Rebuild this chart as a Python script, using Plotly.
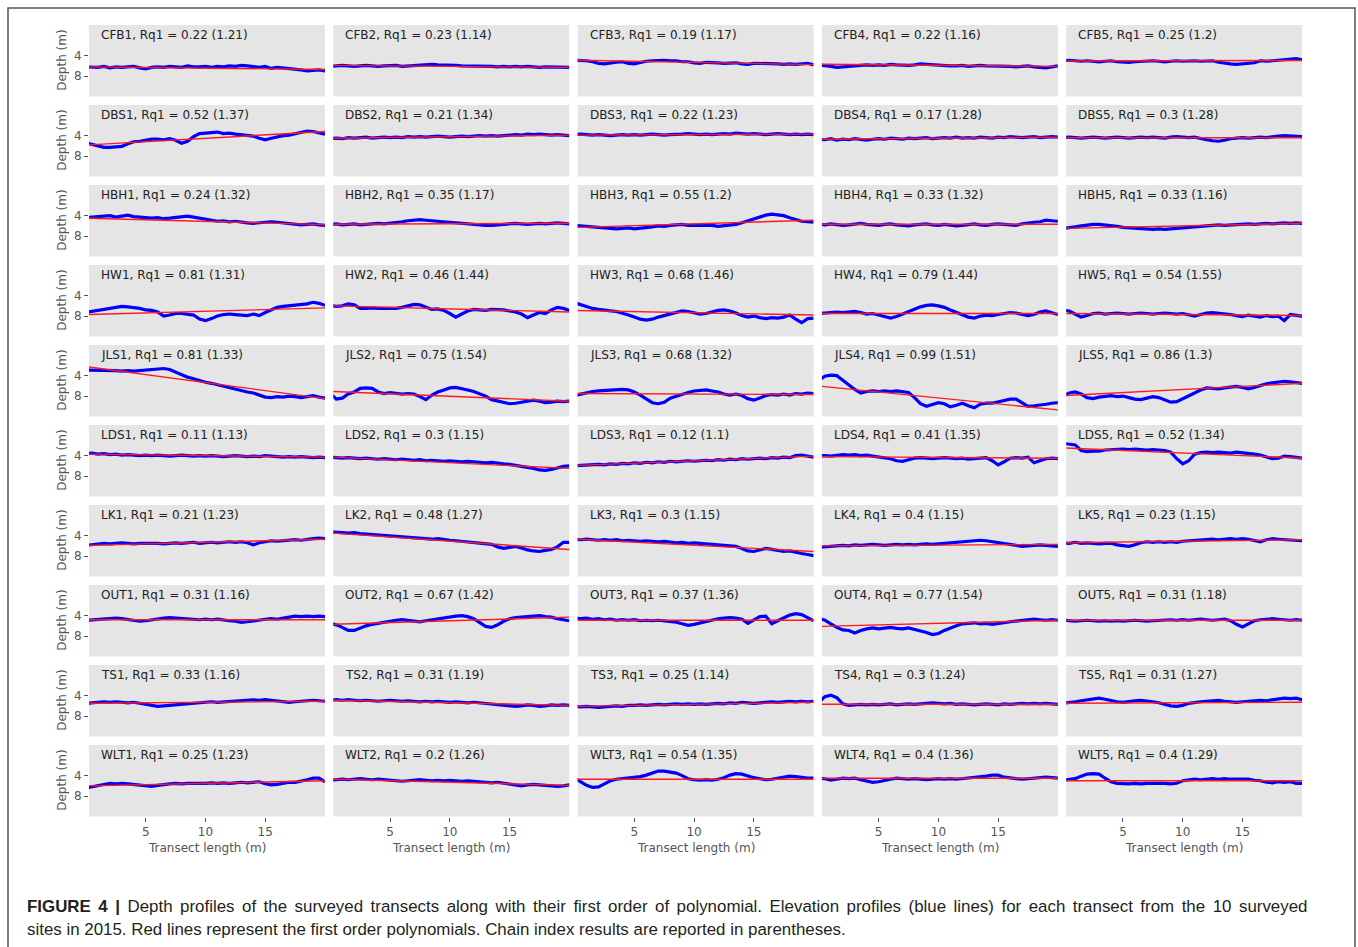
import plotly.graph_objects as go

# ---- data -------------------------------------------------------------
sites = ["CFB", "DBS", "HBH", "HW", "JLS", "LDS", "LK", "OUT", "TS", "WLT"]

rq1 = [
    [0.22, 0.23, 0.19, 0.22, 0.25],
    [0.52, 0.21, 0.22, 0.17, 0.3],
    [0.24, 0.35, 0.55, 0.33, 0.33],
    [0.81, 0.46, 0.68, 0.79, 0.54],
    [0.81, 0.75, 0.68, 0.99, 0.86],
    [0.11, 0.3, 0.12, 0.41, 0.52],
    [0.21, 0.48, 0.3, 0.4, 0.23],
    [0.31, 0.67, 0.37, 0.77, 0.31],
    [0.33, 0.31, 0.25, 0.3, 0.31],
    [0.25, 0.2, 0.54, 0.4, 0.4],
]

chain_index = [
    [1.21, 1.14, 1.17, 1.16, 1.2],
    [1.37, 1.34, 1.23, 1.28, 1.28],
    [1.32, 1.17, 1.2, 1.32, 1.16],
    [1.31, 1.44, 1.46, 1.44, 1.55],
    [1.33, 1.54, 1.32, 1.51, 1.3],
    [1.13, 1.15, 1.1, 1.35, 1.34],
    [1.23, 1.27, 1.15, 1.15, 1.15],
    [1.16, 1.42, 1.36, 1.54, 1.18],
    [1.16, 1.19, 1.14, 1.24, 1.27],
    [1.23, 1.26, 1.35, 1.36, 1.29],
]

# distance along each transect (m), one sample every 0.5 m
distance_m = [i * 0.5 for i in range(41)]

# depth profiles (m), five transects per site
CFB = [
    [6.2, 6.2, 6.3, 6.1, 6.4, 6.2, 6.3, 6.2, 6.1, 6.4, 6.6, 6.3, 6.2, 6.3, 6.1, 6.2, 6.3, 6.0, 6.2, 6.2, 6.1,
     6.3, 6.1, 6.2, 6.0, 6.1, 5.9, 6.0, 6.2, 6.3, 6.1, 6.5, 6.3, 6.4, 6.5, 6.6, 6.8, 7.0, 6.9, 6.8, 7.0],
    [6.1, 6.0, 5.9, 6.0, 6.1, 6.0, 5.9, 6.0, 6.1, 6.0, 6.0, 5.9, 6.1, 6.0, 5.9, 5.8, 5.7, 5.7, 5.8, 5.8, 5.9,
     5.9, 6.0, 6.0, 6.1, 6.0, 6.0, 6.1, 6.2, 6.1, 6.2, 6.1, 6.2, 6.1, 6.2, 6.3, 6.2, 6.2, 6.3, 6.2, 6.3],
    [4.9, 4.9, 5.0, 5.2, 5.5, 5.6, 5.4, 5.3, 5.2, 5.5, 5.6, 5.3, 5.1, 5.0, 4.9, 4.9, 5.0, 5.0, 5.2, 5.2, 5.4,
     5.5, 5.3, 5.3, 5.4, 5.5, 5.4, 5.4, 5.6, 5.7, 5.5, 5.5, 5.6, 5.5, 5.6, 5.7, 5.6, 5.7, 5.6, 5.5, 5.8],
    [5.8, 5.9, 6.1, 6.3, 6.2, 6.0, 5.9, 5.9, 5.8, 5.9, 5.8, 5.9, 5.7, 5.8, 5.9, 5.9, 5.8, 5.6, 5.7, 5.8, 5.9,
     5.9, 6.0, 6.0, 5.9, 6.1, 6.0, 5.9, 6.0, 6.0, 6.1, 6.0, 6.1, 6.2, 6.1, 6.0, 6.2, 6.3, 6.4, 6.2, 6.0],
    [5.0, 4.9, 5.0, 5.1, 5.0, 5.1, 5.2, 5.1, 5.0, 5.2, 5.3, 5.3, 5.2, 5.1, 5.0, 5.0, 5.1, 5.2, 5.1, 5.0, 5.1,
     5.0, 5.0, 5.1, 5.0, 5.0, 5.3, 5.5, 5.6, 5.7, 5.6, 5.5, 5.4, 5.0, 5.1, 5.0, 4.9, 4.7, 4.6, 4.6, 4.8],
]
DBS = [
    [5.4, 5.7, 6.1, 6.3, 6.3, 6.2, 6.1, 5.6, 5.2, 5.1, 4.9, 4.7, 4.7, 4.8, 4.6, 4.9, 5.5, 5.1, 4.2, 3.6, 3.5,
     3.4, 3.3, 3.6, 3.5, 3.7, 3.8, 3.9, 4.1, 4.5, 4.8, 4.5, 4.2, 4.0, 3.9, 3.6, 3.4, 3.1, 3.2, 3.4, 3.7],
    [4.6, 4.5, 4.6, 4.4, 4.5, 4.4, 4.3, 4.5, 4.4, 4.3, 4.4, 4.3, 4.4, 4.2, 4.3, 4.2, 4.3, 4.2, 4.1, 4.2, 4.3,
     4.2, 4.1, 4.2, 4.1, 4.0, 4.1, 4.0, 4.1, 4.0, 3.9, 3.8, 3.9, 3.7, 3.8, 3.7, 3.8, 3.9, 3.8, 3.9, 4.0],
    [3.8, 3.7, 3.8, 3.9, 3.8, 3.9, 4.0, 3.9, 3.8, 3.9, 3.8, 3.9, 3.8, 3.7, 3.8, 3.9, 3.8, 3.8, 3.7, 3.6, 3.7,
     3.8, 3.7, 3.8, 3.7, 3.6, 3.7, 3.5, 3.6, 3.7, 3.6, 3.7, 3.8, 3.7, 3.6, 3.7, 3.8, 3.7, 3.8, 3.7, 3.8],
    [4.7, 4.8, 4.6, 4.9, 4.7, 4.8, 4.6, 4.7, 4.9, 4.7, 4.6, 4.7, 4.5, 4.6, 4.7, 4.5, 4.6, 4.5, 4.4, 4.6, 4.5,
     4.4, 4.5, 4.3, 4.5, 4.4, 4.5, 4.3, 4.4, 4.5, 4.3, 4.4, 4.2, 4.3, 4.4, 4.3, 4.2, 4.4, 4.3, 4.2, 4.3],
    [4.4, 4.3, 4.4, 4.5, 4.4, 4.3, 4.4, 4.5, 4.4, 4.3, 4.4, 4.5, 4.4, 4.3, 4.4, 4.3, 4.4, 4.5, 4.3, 4.2, 4.3,
     4.4, 4.3, 4.6, 4.8, 5.0, 5.1, 4.9, 4.6, 4.5, 4.4, 4.5, 4.4, 4.3, 4.4, 4.2, 4.1, 4.0, 4.1, 4.2, 4.2],
]
HBH = [
    [4.4, 4.3, 4.2, 4.1, 4.0, 4.3, 4.1, 3.9, 4.2, 4.3, 4.4, 4.5, 4.4, 4.6, 4.5, 4.4, 4.3, 4.1, 4.3, 4.5, 4.7,
     5.0, 5.1, 5.0, 5.2, 5.1, 5.3, 5.4, 5.5, 5.4, 5.3, 5.2, 5.3, 5.4, 5.5, 5.6, 5.8, 5.7, 5.6, 5.8, 5.9],
    [5.7, 5.6, 5.8, 5.7, 5.6, 5.8, 5.7, 5.6, 5.5, 5.6, 5.5, 5.4, 5.2, 5.0, 4.9, 4.8, 4.9, 5.0, 5.2, 5.3, 5.3,
     5.4, 5.5, 5.6, 5.7, 5.8, 5.9, 5.9, 5.8, 5.7, 5.6, 5.5, 5.6, 5.7, 5.6, 5.5, 5.6, 5.5, 5.4, 5.5, 5.6],
    [5.9, 6.0, 6.1, 6.2, 6.3, 6.4, 6.5, 6.6, 6.5, 6.4, 6.6, 6.5, 6.3, 6.2, 6.0, 6.1, 5.9, 5.8, 5.7, 5.9, 5.9,
     6.0, 6.0, 5.9, 6.1, 6.0, 5.9, 5.7, 5.4, 5.0, 4.6, 4.2, 3.9, 3.7, 3.8, 4.0, 4.4, 4.8, 5.1, 5.2, 5.3],
    [5.7, 5.8, 5.6, 5.7, 5.9, 5.8, 5.6, 5.5, 5.7, 5.8, 5.9, 5.7, 5.6, 5.8, 5.9, 6.0, 5.8, 5.7, 5.6, 5.8, 5.9,
     5.7, 5.8, 6.0, 5.9, 5.7, 5.6, 5.8, 5.9, 5.7, 5.6, 5.7, 5.8, 5.9, 5.6, 5.4, 5.3, 5.2, 4.9, 5.0, 5.1],
    [6.5, 6.4, 6.2, 6.0, 5.8, 5.7, 5.7, 5.8, 5.9, 6.1, 6.3, 6.4, 6.5, 6.6, 6.7, 6.7, 6.6, 6.7, 6.6, 6.5, 6.4,
     6.3, 6.2, 6.0, 5.9, 5.8, 5.8, 5.9, 5.8, 5.7, 5.7, 5.6, 5.7, 5.6, 5.5, 5.6, 5.5, 5.4, 5.5, 5.4, 5.5],
]
HW = [
    [7.3, 7.1, 6.8, 6.6, 6.4, 6.2, 6.1, 6.2, 6.3, 6.5, 6.8, 6.9, 7.2, 8.0, 7.8, 7.5, 7.5, 7.6, 7.8, 8.6, 8.9,
     8.5, 8.0, 7.7, 7.6, 7.7, 7.8, 7.9, 7.6, 7.9, 7.3, 6.8, 6.3, 6.1, 6.0, 5.9, 5.8, 5.6, 5.3, 5.5, 5.9],
    [5.9, 6.1, 6.0, 5.6, 5.8, 6.5, 6.5, 6.4, 6.5, 6.5, 6.4, 6.5, 6.3, 6.0, 5.7, 5.8, 6.2, 6.7, 6.6, 6.9, 7.5,
     8.2, 7.6, 7.0, 6.7, 6.8, 6.9, 6.7, 6.7, 6.8, 7.0, 7.2, 7.6, 8.3, 7.8, 7.3, 7.5, 6.8, 6.3, 6.5, 6.9],
    [5.4, 5.8, 6.2, 6.5, 6.7, 6.9, 7.0, 7.1, 7.4, 7.8, 8.2, 8.6, 8.8, 8.6, 8.2, 7.9, 7.6, 7.2, 7.0, 7.1, 7.3,
     7.6, 7.5, 7.2, 6.9, 6.8, 7.0, 7.4, 7.9, 8.2, 8.0, 8.3, 8.5, 8.3, 8.4, 8.2, 7.8, 8.6, 9.3, 8.5, 8.4],
    [7.5, 7.4, 7.3, 7.2, 7.3, 7.2, 7.1, 7.3, 7.6, 7.5, 7.8, 8.2, 8.4, 8.1, 7.6, 7.1, 6.6, 6.2, 5.9, 5.8, 6.0,
     6.3, 6.8, 7.3, 7.8, 8.2, 8.4, 8.0, 7.8, 7.9, 7.7, 7.5, 7.3, 7.4, 7.6, 7.9, 7.7, 7.2, 7.0, 7.3, 7.7],
    [6.9, 7.0, 7.6, 8.2, 7.9, 7.5, 7.4, 7.6, 7.5, 7.4, 7.5, 7.6, 7.5, 7.4, 7.5, 7.6, 7.5, 7.4, 7.5, 7.6, 7.5,
     7.8, 8.0, 7.7, 7.4, 7.3, 7.4, 7.5, 7.7, 7.9, 8.1, 7.8, 8.0, 8.2, 7.9, 8.1, 8.0, 8.9, 7.7, 7.8, 8.0],
]
JLS = [
    [2.9, 2.9, 3.0, 2.9, 3.0, 3.0, 3.1, 3.0, 3.1, 3.0, 2.9, 2.8, 2.7, 2.6, 2.8, 3.3, 3.9, 4.3, 4.6, 5.0, 5.3,
     5.5, 5.8, 6.1, 6.4, 6.6, 6.9, 7.2, 7.4, 7.8, 8.2, 8.3, 8.1, 8.2, 8.0, 8.1, 8.3, 8.1, 7.9, 8.2, 8.4],
    [7.5, 8.6, 8.4, 7.6, 7.2, 6.5, 6.4, 6.5, 7.2, 7.5, 7.3, 7.5, 7.6, 7.5, 7.6, 8.1, 8.7, 7.8, 7.2, 6.8, 6.4,
     6.3, 6.5, 6.8, 7.1, 7.5, 8.0, 8.7, 9.0, 9.3, 9.5, 9.4, 9.2, 9.0, 8.8, 9.0, 9.3, 9.2, 9.0, 9.1, 9.0],
    [7.9, 7.6, 7.3, 7.1, 7.0, 6.9, 6.8, 6.7, 6.7, 6.8, 7.2, 7.8, 8.6, 9.3, 9.5, 9.2, 8.4, 8.0, 7.6, 7.3, 7.0,
     6.9, 6.8, 7.0, 7.2, 7.6, 7.8, 7.6, 7.9, 8.5, 8.8, 8.4, 7.9, 7.7, 7.8, 7.6, 7.8, 7.5, 7.6, 7.4, 7.5],
    [4.9, 4.1, 3.9, 4.0, 4.9, 5.8, 6.7, 7.4, 7.1, 7.0, 7.1, 7.0, 7.1, 7.0, 7.1, 7.3, 8.3, 9.5, 10.0, 9.7, 9.3,
     9.5, 10.1, 9.8, 9.4, 9.9, 10.3, 9.6, 9.4, 9.4, 9.1, 8.8, 8.6, 8.6, 9.3, 10.0, 9.9, 9.8, 9.6, 9.4, 9.3],
    [7.9, 7.4, 7.2, 7.6, 8.3, 8.5, 8.2, 8.0, 7.9, 8.1, 8.0, 8.3, 8.6, 8.7, 8.4, 8.1, 8.3, 8.8, 9.2, 9.1, 8.5,
     7.9, 7.3, 6.8, 6.4, 6.5, 6.6, 6.4, 6.2, 6.1, 6.3, 6.6, 6.3, 5.9, 5.6, 5.4, 5.3, 5.1, 5.2, 5.4, 5.5],
]
LDS = [
    [3.6, 3.5, 3.7, 3.6, 3.8, 3.7, 3.9, 3.8, 3.9, 4.0, 3.9, 4.0, 3.9, 4.0, 4.1, 4.0, 3.9, 4.0, 4.1, 4.0, 4.1,
     4.0, 4.1, 4.2, 4.1, 4.0, 4.1, 4.2, 4.1, 4.2, 4.0, 4.1, 4.2, 4.3, 4.2, 4.3, 4.2, 4.3, 4.4, 4.3, 4.4],
    [4.3, 4.4, 4.5, 4.4, 4.5, 4.6, 4.5, 4.6, 4.7, 4.6, 4.7, 4.8, 4.7, 4.8, 4.9, 4.8, 5.0, 4.9, 5.0, 5.1, 5.0,
     5.1, 5.2, 5.1, 5.2, 5.3, 5.4, 5.3, 5.5, 5.6, 5.7, 5.9, 6.0, 6.2, 6.5, 6.8, 6.9, 6.7, 6.4, 6.1, 6.0],
    [6.0, 5.9, 5.9, 5.8, 5.7, 5.8, 5.6, 5.7, 5.5, 5.6, 5.4, 5.5, 5.3, 5.4, 5.2, 5.3, 5.1, 5.2, 5.1, 5.0, 5.1,
     5.0, 4.9, 5.0, 4.8, 4.9, 4.7, 4.8, 4.6, 4.7, 4.6, 4.5, 4.6, 4.4, 4.5, 4.3, 4.4, 4.0, 3.9, 4.1, 4.3],
    [4.1, 4.0, 4.1, 3.9, 3.8, 3.9, 3.8, 4.0, 3.9, 4.1, 4.3, 4.4, 4.6, 5.0, 5.1, 4.8, 4.5, 4.4, 4.5, 4.6, 4.5,
     4.4, 4.5, 4.6, 4.5, 4.7, 4.6, 4.5, 4.4, 5.0, 5.8, 5.2, 4.5, 4.4, 4.5, 4.3, 5.4, 5.0, 4.6, 4.5, 4.6],
    [1.6, 1.7, 1.9, 3.0, 3.2, 3.1, 3.1, 2.9, 2.8, 2.7, 2.7, 2.8, 2.7, 2.8, 2.9, 2.8, 2.9, 3.0, 3.3, 4.6, 5.6,
     5.0, 3.7, 3.4, 3.3, 3.4, 3.3, 3.4, 3.5, 3.3, 3.4, 3.6, 3.7, 3.9, 4.3, 4.6, 4.5, 4.1, 4.2, 4.3, 4.5],
]
LK = [
    [5.9, 5.8, 5.6, 5.5, 5.6, 5.5, 5.4, 5.5, 5.6, 5.5, 5.5, 5.4, 5.5, 5.6, 5.5, 5.4, 5.5, 5.4, 5.3, 5.5, 5.4,
     5.3, 5.4, 5.3, 5.2, 5.3, 5.2, 5.4, 5.8, 5.4, 5.2, 5.0, 5.1, 5.0, 4.9, 4.8, 4.9, 4.7, 4.6, 4.5, 4.6],
    [3.3, 3.3, 3.4, 3.5, 3.4, 3.6, 3.7, 3.8, 3.9, 4.0, 4.1, 4.2, 4.3, 4.3, 4.4, 4.5, 4.6, 4.7, 4.6, 4.8, 4.9,
     5.0, 5.1, 5.3, 5.4, 5.5, 5.6, 5.7, 6.2, 6.5, 6.3, 6.1, 6.4, 6.8, 7.0, 7.1, 6.9, 6.7, 6.2, 5.3, 5.3],
    [4.7, 4.8, 4.7, 4.8, 4.9, 4.8, 4.9, 4.8, 5.0, 4.9, 5.0, 5.1, 5.0, 5.1, 5.2, 5.1, 5.3, 5.4, 5.3, 5.5, 5.4,
     5.5, 5.6, 5.7, 5.8, 5.9, 6.0, 6.1, 6.5, 7.0, 7.1, 6.8, 6.5, 6.7, 6.9, 7.1, 7.0, 7.3, 7.5, 7.7, 7.9],
    [6.3, 6.2, 6.1, 6.0, 5.9, 6.0, 5.8, 5.9, 5.8, 5.7, 5.8, 5.9, 5.8, 5.7, 5.8, 5.7, 5.8, 5.7, 5.6, 5.7, 5.6,
     5.5, 5.4, 5.3, 5.2, 5.0, 4.9, 4.9, 5.0, 5.2, 5.3, 5.5, 5.7, 6.0, 6.1, 6.0, 5.9, 5.8, 5.9, 6.0, 6.1],
    [5.4, 5.5, 5.3, 5.5, 5.4, 5.5, 5.6, 5.5, 5.5, 5.8, 6.0, 6.1, 5.8, 5.4, 5.2, 5.3, 5.2, 5.3, 5.2, 5.3, 5.1,
     5.0, 4.9, 4.8, 4.8, 4.7, 4.8, 4.7, 4.6, 4.7, 4.6, 4.7, 4.9, 5.2, 4.8, 4.6, 4.7, 4.8, 4.9, 5.0, 5.0],
]
OUT = [
    [4.9, 4.8, 4.7, 4.6, 4.5, 4.5, 4.6, 4.8, 5.0, 5.1, 5.0, 4.8, 4.6, 4.5, 4.4, 4.5, 4.5, 4.6, 4.7, 4.8, 4.7,
     4.8, 4.7, 4.9, 5.0, 5.1, 5.3, 5.2, 5.0, 4.8, 4.7, 4.6, 4.7, 4.5, 4.3, 4.1, 4.2, 4.1, 4.2, 4.1, 4.2],
    [5.5, 5.8, 6.3, 6.9, 6.9, 6.4, 6.0, 5.7, 5.5, 5.2, 5.0, 4.9, 4.8, 4.9, 5.0, 5.2, 5.0, 4.8, 4.6, 4.4, 4.2,
     4.1, 4.0, 4.2, 4.6, 5.3, 6.1, 6.3, 5.8, 5.1, 4.6, 4.4, 4.3, 4.2, 4.1, 4.0, 4.2, 4.3, 4.6, 4.8, 5.0],
    [4.4, 4.6, 4.5, 4.7, 4.6, 4.8, 4.7, 4.9, 4.8, 4.9, 4.8, 5.0, 4.9, 5.0, 4.9, 5.0, 5.1, 5.3, 5.6, 5.9, 5.7,
     5.4, 5.1, 4.8, 4.6, 4.5, 4.4, 4.5, 4.7, 5.5, 4.8, 4.2, 4.1, 5.6, 5.0, 4.4, 3.9, 3.6, 3.8, 4.4, 5.0],
    [4.5, 4.9, 5.6, 6.3, 6.8, 6.9, 7.4, 6.9, 6.6, 6.4, 6.6, 6.5, 6.3, 6.5, 6.6, 6.4, 6.7, 6.9, 7.3, 7.7, 7.5,
     6.9, 6.4, 6.0, 5.6, 5.5, 5.4, 5.6, 5.5, 5.7, 5.6, 5.4, 5.2, 5.1, 5.0, 4.9, 4.7, 4.8, 4.9, 4.8, 4.9],
    [4.9, 5.0, 5.1, 5.0, 4.9, 5.0, 5.1, 5.0, 5.1, 5.0, 5.1, 5.0, 4.9, 5.0, 5.1, 5.0, 4.9, 4.9, 4.8, 4.9, 4.8,
     4.9, 4.8, 4.7, 4.8, 4.9, 4.8, 4.7, 5.0, 5.7, 6.2, 5.6, 5.0, 4.8, 4.7, 4.6, 4.7, 4.8, 4.9, 4.8, 4.9],
]
TS = [
    [5.5, 5.4, 5.3, 5.2, 5.3, 5.2, 5.3, 5.4, 5.3, 5.5, 5.6, 5.9, 6.1, 6.0, 5.9, 5.8, 5.7, 5.6, 5.5, 5.4, 5.3,
     5.2, 5.3, 5.2, 5.1, 5.0, 5.0, 4.9, 4.8, 4.9, 4.8, 4.9, 5.0, 5.1, 5.3, 5.2, 5.1, 5.0, 4.9, 5.0, 5.1],
    [4.9, 4.8, 4.9, 4.8, 4.9, 5.0, 4.9, 5.0, 5.1, 5.0, 4.9, 5.0, 5.1, 5.0, 5.1, 5.2, 5.1, 5.2, 5.1, 5.2, 5.3,
     5.2, 5.3, 5.4, 5.3, 5.4, 5.5, 5.6, 5.7, 5.9, 6.0, 6.1, 6.0, 5.8, 5.9, 6.1, 6.0, 5.8, 5.9, 5.8, 5.9],
    [6.1, 6.2, 6.1, 6.2, 6.3, 6.2, 6.1, 6.0, 6.1, 5.9, 5.9, 5.8, 5.9, 5.8, 5.7, 5.8, 5.7, 5.6, 5.7, 5.6, 5.7,
     5.6, 5.7, 5.6, 5.5, 5.6, 5.4, 5.5, 5.3, 5.4, 5.5, 5.4, 5.3, 5.2, 5.3, 5.2, 5.1, 5.2, 5.1, 5.2, 5.1],
    [5.3, 4.2, 3.9, 4.4, 5.6, 5.9, 5.8, 5.7, 5.8, 5.7, 5.8, 5.7, 5.6, 5.8, 5.7, 5.6, 5.7, 5.6, 5.5, 5.4, 5.5,
     5.6, 5.5, 5.7, 5.6, 5.7, 5.8, 5.7, 5.6, 5.7, 5.8, 5.6, 5.7, 5.6, 5.5, 5.6, 5.5, 5.6, 5.5, 5.6, 5.7],
    [5.5, 5.4, 5.2, 5.0, 4.8, 4.6, 4.5, 4.7, 5.0, 5.2, 5.3, 5.1, 5.0, 4.9, 5.0, 5.2, 5.4, 5.7, 6.0, 6.1, 5.9,
     5.5, 5.3, 5.2, 5.1, 5.0, 4.9, 5.1, 5.2, 5.3, 5.2, 5.1, 5.0, 4.9, 5.0, 4.8, 4.6, 4.5, 4.6, 4.5, 4.8],
]
WLT = [
    [6.4, 6.2, 5.9, 5.7, 5.5, 5.6, 5.5, 5.6, 5.7, 5.8, 6.0, 6.1, 5.9, 5.7, 5.6, 5.5, 5.6, 5.5, 5.5, 5.6, 5.5,
     5.4, 5.5, 5.4, 5.5, 5.4, 5.3, 5.4, 5.3, 5.2, 5.6, 5.8, 5.7, 5.5, 5.3, 5.3, 5.1, 4.8, 4.5, 4.5, 5.2],
    [4.9, 4.8, 4.7, 4.8, 4.7, 4.6, 4.7, 4.8, 4.7, 4.8, 4.9, 5.0, 5.1, 5.0, 4.9, 4.8, 4.9, 5.0, 4.9, 5.0, 4.9,
     5.0, 5.1, 5.0, 5.1, 5.2, 5.3, 5.4, 5.3, 5.5, 5.7, 5.9, 6.0, 5.8, 5.7, 5.8, 5.9, 6.0, 6.1, 6.0, 5.8],
    [4.5, 5.2, 5.9, 6.3, 6.2, 5.6, 5.0, 4.7, 4.6, 4.5, 4.4, 4.2, 3.9, 3.5, 3.1, 3.1, 3.3, 3.5, 4.0, 4.6, 4.8,
     4.9, 4.8, 4.9, 4.7, 4.4, 3.9, 3.6, 3.7, 4.1, 4.4, 4.6, 4.8, 4.7, 4.5, 4.3, 4.1, 4.2, 4.4, 4.5, 4.5],
    [4.5, 4.6, 4.9, 4.7, 4.5, 4.6, 4.5, 4.8, 5.1, 5.3, 5.2, 4.9, 4.7, 4.5, 4.6, 4.7, 4.6, 4.7, 4.8, 4.7, 4.6,
     4.7, 4.6, 4.7, 4.6, 4.5, 4.4, 4.3, 4.1, 3.9, 3.9, 4.3, 4.5, 4.6, 4.7, 4.6, 4.5, 4.4, 4.3, 4.4, 4.5],
    [4.9, 4.8, 4.6, 4.1, 3.7, 3.6, 3.7, 4.5, 5.2, 5.5, 5.6, 5.6, 5.5, 5.6, 5.5, 5.5, 5.4, 5.5, 5.6, 5.5, 5.0,
     4.8, 4.7, 4.8, 4.7, 4.6, 4.7, 4.6, 4.7, 4.7, 4.6, 4.7, 4.9, 5.0, 5.3, 5.4, 5.2, 5.3, 5.2, 5.5, 5.5],
]
profiles = [CFB, DBS, HBH, HW, JLS, LDS, LK, OUT, TS, WLT]

# first-order polynomial: depth at the start and end of each transect (m)
fit_start = [
    [6.2, 5.9, 4.9, 5.7, 5.05],
    [5.8, 4.5, 3.9, 4.7, 4.4],
    [4.5, 5.7, 6.3, 5.7, 6.5],
    [7.7, 6.0, 6.9, 7.5, 7.5],
    [2.3, 7.1, 7.5, 6.1, 7.9],
    [3.7, 4.3, 5.9, 4.2, 2.5],
    [5.9, 3.5, 4.7, 6.0, 5.4],
    [4.8, 5.7, 4.9, 6.1, 4.9],
    [5.5, 4.9, 6.1, 5.7, 5.5],
    [6.0, 4.7, 4.7, 4.5, 5.0],
]
fit_end = [
    [6.7, 6.3, 5.75, 6.1, 4.95],
    [3.2, 3.9, 3.7, 4.3, 4.4],
    [5.75, 5.5, 4.9, 5.7, 5.5],
    [6.4, 7.2, 7.8, 7.5, 7.9],
    [8.5, 9.0, 7.7, 10.7, 5.5],
    [4.3, 6.5, 4.1, 4.5, 4.5],
    [4.7, 6.7, 7.1, 5.7, 4.8],
    [4.8, 4.3, 4.9, 4.9, 4.9],
    [5.1, 5.9, 5.3, 5.7, 5.3],
    [5.0, 5.9, 4.7, 4.5, 5.0],
]

x_ticks = [5, 10, 15]
y_ticks = [4, 8]
x_span = [0.25, 20.0]
depth_span = [12.0, -2.0]

caption_lines = [
    "<b>FIGURE 4 |</b> Depth profiles of the surveyed transects along with their first order of polynomial. "
    "Elevation profiles (blue lines) for each transect from the 10 surveyed",
    "sites in 2015. Red lines represent the first order polynomials. Chain index results are reported in parentheses.",
]
# the first caption line is set justified: widen its word gaps
caption_justify = [True, False]

# ---- layout geometry (pixels) -------------------------------------------
W, H = 1358, 947
n_rows, n_cols = 10, 5
panel_left0, panel_w, col_step = 89.0, 236.0, 244.3
panel_top0, panel_h, row_step = 25.0, 71.5, 80.0

TICK_GRAY = "#555555"
TITLE_FONT = "DejaVu Sans, Verdana, sans-serif"
CAPTION_FONT = "Liberation Sans, Arial, Helvetica, sans-serif"


def px_x(x):
    return x / W


def px_y(y):
    return 1 - y / H


fig = go.Figure()
layout_axes = {}
annotations = []

for r in range(n_rows):
    for c in range(n_cols):
        k = r * n_cols + c + 1
        xa = "x" if k == 1 else f"x{k}"
        ya = "y" if k == 1 else f"y{k}"
        left = panel_left0 + c * col_step
        top = panel_top0 + r * row_step
        bottom_row = r == n_rows - 1

        fig.add_trace(go.Scatter(
            x=distance_m, y=profiles[r][c], mode="lines",
            line=dict(color="#0000ff", width=3.2), xaxis=xa, yaxis=ya,
            showlegend=False, hoverinfo="skip"))
        fig.add_trace(go.Scatter(
            x=x_span, y=[fit_start[r][c], fit_end[r][c]], mode="lines",
            line=dict(color="#ff1a1a", width=1.4), xaxis=xa, yaxis=ya,
            showlegend=False, hoverinfo="skip"))

        layout_axes["xaxis" if k == 1 else f"xaxis{k}"] = dict(
            domain=[px_x(left), px_x(left + panel_w)], anchor=ya,
            range=x_span, showgrid=False, zeroline=False, showline=False,
            tickvals=x_ticks if bottom_row else [],
            ticks="outside" if bottom_row else "", ticklen=4, tickwidth=1,
            tickcolor=TICK_GRAY, showticklabels=bottom_row,
            tickfont=dict(family=TITLE_FONT, size=12, color=TICK_GRAY),
        )
        layout_axes["yaxis" if k == 1 else f"yaxis{k}"] = dict(
            domain=[px_y(top + panel_h), px_y(top)], anchor=xa,
            range=depth_span, showgrid=False, zeroline=False, showline=False,
            tickvals=y_ticks if c == 0 else [],
            ticks="outside" if c == 0 else "", ticklen=4, tickwidth=1,
            tickcolor=TICK_GRAY, showticklabels=c == 0,
            tickfont=dict(family=TITLE_FONT, size=12, color=TICK_GRAY),
        )

        label = f"{sites[r]}{c + 1}, Rq1 = {rq1[r][c]:g} ({chain_index[r][c]:g})"
        annotations.append(dict(
            x=px_x(left + 10), y=px_y(top + 10), xref="paper", yref="paper",
            text=label, showarrow=False, xanchor="left", yanchor="middle",
            font=dict(family=TITLE_FONT, size=12, color="#222222")))

        if c == 0:
            annotations.append(dict(
                x=px_x(62), y=px_y(top + panel_h / 2), xref="paper", yref="paper",
                text="Depth (m)", textangle=-90, showarrow=False,
                xanchor="center", yanchor="middle",
                font=dict(family=TITLE_FONT, size=12, color=TICK_GRAY)))
        if bottom_row:
            annotations.append(dict(
                x=px_x(left + panel_w / 2), y=px_y(848), xref="paper", yref="paper",
                text="Transect length (m)", showarrow=False,
                xanchor="center", yanchor="middle",
                font=dict(family=TITLE_FONT, size=12, color=TICK_GRAY)))

for i, line in enumerate(caption_lines):
    if caption_justify[i]:
        line = line.replace(" ", " \u2006")
    annotations.append(dict(
        x=px_x(25), y=px_y(906 + 23 * i), xref="paper", yref="paper",
        text=line, showarrow=False, xanchor="left", yanchor="middle",
        font=dict(family=CAPTION_FONT, size=16.9, color="#231f20")))

panel_shapes = []
for r in range(n_rows):
    for c in range(n_cols):
        left = panel_left0 + c * col_step
        top = panel_top0 + r * row_step
        panel_shapes.append(dict(
            type="rect", xref="paper", yref="paper", layer="below",
            x0=px_x(left), x1=px_x(left + panel_w),
            y0=px_y(top + panel_h), y1=px_y(top),
            fillcolor="#e5e5e5", line=dict(width=0)))

# outer frame around the figure and caption
panel_shapes.append(dict(
    type="rect", xref="paper", yref="paper", layer="above",
    x0=px_x(8), x1=px_x(1355), y0=px_y(960), y1=px_y(8),
    line=dict(color="#555555", width=1.5), fillcolor="rgba(0,0,0,0)"))

fig.update_layout(
    width=W, height=H, margin=dict(l=0, r=0, t=0, b=0),
    paper_bgcolor="white", plot_bgcolor="rgba(0,0,0,0)",
    annotations=annotations, shapes=panel_shapes, showlegend=False,
    **layout_axes,
)

fig.write_html("out.html")
